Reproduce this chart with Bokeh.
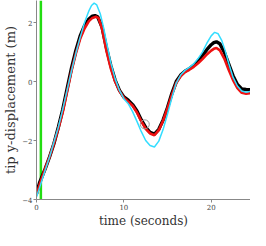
from bokeh.plotting import figure
from bokeh.models import Range1d, FixedTicker
from bokeh.embed import file_html
from bokeh.resources import INLINE

# time (s) and tip y-displacement (m) for the three simulations
t_black = [0, 0.35, 1, 1.5, 2, 2.5, 3, 3.5, 4, 4.5, 5, 5.5, 6, 6.4, 6.7, 7.0, 7.5, 8, 8.5, 9, 9.5, 10, 10.5, 11, 11.5, 12, 12.5, 13, 13.5, 14, 14.5, 15, 15.5, 16, 16.5, 17, 17.5, 18, 18.5, 19, 19.5, 20, 20.3, 20.6, 21, 21.5, 22, 22.5, 23, 23.5, 24, 25]
y_black = [-3.8, -3.43, -2.95, -2.55, -2.1, -1.55, -0.95, -0.25, 0.45, 1.05, 1.55, 1.9, 2.12, 2.22, 2.24, 2.2, 1.85, 1.15, 0.55, 0.05, -0.3, -0.52, -0.63, -0.78, -1.0, -1.3, -1.55, -1.72, -1.78, -1.62, -1.3, -0.88, -0.4, 0.0, 0.22, 0.35, 0.44, 0.55, 0.7, 0.88, 1.08, 1.25, 1.32, 1.35, 1.28, 1.0, 0.6, 0.2, -0.1, -0.25, -0.27, -0.28]

t_red = [0, 0.35, 1, 1.5, 2, 2.5, 3, 3.5, 4, 4.5, 5, 5.5, 6, 6.4, 6.8, 7.1, 7.5, 8, 8.5, 9, 9.5, 10, 10.5, 11, 11.5, 12, 12.5, 13, 13.5, 14, 14.5, 15, 15.5, 16, 16.5, 17, 17.5, 18, 18.5, 19, 19.5, 20, 20.3, 20.6, 21, 21.5, 22, 22.5, 23, 23.5, 24, 25]
y_red = [-3.85, -3.5, -2.95, -2.55, -2.1, -1.6, -1.05, -0.35, 0.35, 0.95, 1.45, 1.8, 2.05, 2.16, 2.2, 2.15, 1.8, 1.05, 0.45, 0.0, -0.32, -0.55, -0.68, -0.82, -1.05, -1.35, -1.6, -1.76, -1.82, -1.65, -1.32, -0.9, -0.45, -0.05, 0.18, 0.32, 0.4, 0.5, 0.62, 0.76, 0.92, 1.05, 1.11, 1.14, 1.06, 0.78, 0.4, 0.05, -0.22, -0.38, -0.41, -0.38]

t_cyan = [0, 0.35, 1, 1.5, 2, 2.5, 3, 3.5, 4, 4.5, 5, 5.5, 6, 6.3, 6.6, 6.9, 7.3, 7.7, 8, 8.5, 9, 9.5, 10, 10.5, 11, 11.5, 12, 12.5, 13, 13.5, 14, 14.5, 15, 15.5, 16, 16.5, 17, 17.5, 18, 18.5, 19, 19.5, 20, 20.4, 20.8, 21.2, 21.6, 22, 22.5, 23, 23.5, 24, 25]
y_cyan = [-3.92, -3.6, -3.0, -2.55, -2.05, -1.55, -0.95, -0.3, 0.35, 0.95, 1.5, 2.0, 2.4, 2.58, 2.66, 2.6, 2.3, 1.8, 1.35, 0.65, 0.1, -0.3, -0.58, -0.75, -1.02, -1.35, -1.7, -2.0, -2.17, -2.22, -2.02, -1.62, -1.1, -0.55, -0.05, 0.22, 0.38, 0.48, 0.6, 0.78, 1.0, 1.3, 1.55, 1.67, 1.62, 1.4, 1.05, 0.62, 0.15, -0.15, -0.32, -0.36, -0.3]

marker_t = [12.4]
marker_y = [-1.45]
event_t = 0.5

x_ticks = [0, 10, 20]
y_ticks = [-4, -2, 0, 2]
y_tick_labels = {-4: "\u22124", -2: "\u22122", 0: "0", 2: "2"}

SERIF = "DejaVu Serif"

p = figure(width=250, height=230, output_backend="svg", toolbar_location=None,
           x_range=Range1d(0, 24.5), y_range=Range1d(-4, 2.75),
           min_border_left=0, min_border_right=0, min_border_top=0, min_border_bottom=0)
p.outline_line_color = None
p.grid.visible = False
p.background_fill_color = "white"
p.border_fill_color = "white"

p.line([event_t, event_t], [-4, 2.75], line_color="#22dd11", line_width=2.5)
p.line(t_black, y_black, line_color="black", line_width=3.4)
p.line(t_red, y_red, line_color="#ee1111", line_width=2.6)
p.line(t_cyan, y_cyan, line_color="#33ddff", line_width=1.5)
p.scatter(marker_t, marker_y, size=9, fill_color=None, line_color="#999999", line_width=1)

for ax in (p.xaxis[0], p.yaxis[0]):
    ax.axis_line_color = "#888888"
    ax.major_tick_line_color = "#888888"
    ax.minor_tick_line_color = None
    ax.major_tick_in = 0
    ax.major_tick_out = 3
    ax.major_label_text_font = SERIF
    ax.major_label_text_font_size = "7px"
    ax.major_label_text_color = "#444444"
    ax.axis_label_text_font = SERIF
    ax.axis_label_text_font_style = "normal"
    ax.axis_label_text_color = "#333333"
    ax.major_label_standoff = 1
    ax.axis_label_standoff = 1

p.xaxis[0].axis_label_text_font_size = "12px"
p.yaxis[0].axis_label_text_font_size = "13px"
p.xaxis[0].ticker = FixedTicker(ticks=x_ticks)
p.yaxis[0].ticker = FixedTicker(ticks=y_ticks)
p.yaxis[0].major_label_overrides = y_tick_labels
p.xaxis[0].axis_label = "time (seconds)"
p.yaxis[0].axis_label = "tip y-displacement (m)"

open("out.html", "w").write(file_html(p, INLINE))
